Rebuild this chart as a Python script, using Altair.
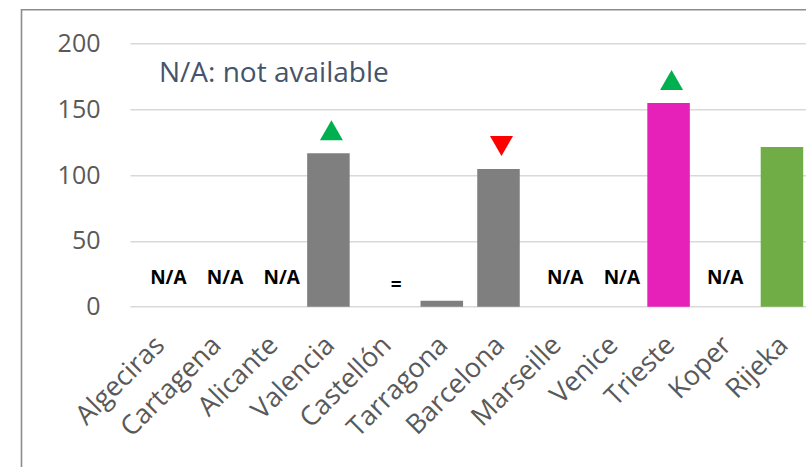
import altair as alt
import pandas as pd

ports = ["Algeciras", "Cartagena", "Alicante", "Valencia", "Castellón", "Tarragona",
         "Barcelona", "Marseille", "Venice", "Trieste", "Koper", "Rijeka"]
country = ["Spain", "Spain", "Spain", "Spain", "Spain", "Spain",
           "Spain", "France", "Italy", "Italy", "Slovenia", "Croatia"]
values = [None, None, None, 116.5, None, 4.6, 104.6, None, None, 154.7, None, 121.3]
notes = ["N/A", "N/A", "N/A", "", "=", "", "", "N/A", "N/A", "", "N/A", ""]
trend = [None, None, None, "up", None, None, "down", None, None, "up", None, None]
y_ticks = [0, 50, 100, 150, 200]

df = pd.DataFrame({"port": ports, "country": country, "value": values,
                   "note": notes, "trend": trend})

FONT = "Open Sans"
W, H = 676, 263.4
STEP_RANGE = 680.3

x_enc = alt.X("port:N", sort=ports,
              scale=alt.Scale(range=[0, STEP_RANGE], paddingInner=0.25, paddingOuter=0.125),
              axis=alt.Axis(title=None, labelAngle=-45, labelAlign="right", labelBaseline="middle",
                            labelFontSize=27, labelColor="#595959", labelFont=FONT,
                            labelPadding=34, labelOffset=2, domain=False, ticks=False,
                            tickSize=0, grid=False, labelOverlap=False))
y_scale = alt.Scale(domain=[0, 200], nice=False)
y_axis = alt.Axis(title=None, values=y_ticks, labelFontSize=25, labelColor="#595959",
                  labelFont=FONT, labelPadding=30, domain=False, ticks=False, tickSize=0,
                  grid=True, gridColor="#D9D9D9", gridWidth=1.5)

base = alt.Chart(df)

bars = base.mark_bar().encode(
    x=x_enc,
    y=alt.Y("value:Q", scale=y_scale, axis=y_axis),
    color=alt.Color("country:N",
                    scale=alt.Scale(domain=["Spain", "France", "Italy", "Slovenia", "Croatia"],
                                    range=["#7F7F7F", "#7F7F7F", "#E621BA", "#7F7F7F", "#70AD47"]),
                    legend=None),
)

na_main = base.transform_filter(
    "datum.note == 'N/A' && datum.port != 'Koper'"
).mark_text(font=FONT, fontWeight="bold", fontSize=19, color="black",
            baseline="middle", dx=10, dy=-29).encode(
    x=alt.X("port:N", sort=ports), y=alt.datum(0), text="note:N")

na_koper = base.transform_filter(
    "datum.note == 'N/A' && datum.port == 'Koper'"
).mark_text(font=FONT, fontWeight="bold", fontSize=19, color="black",
            baseline="middle", dx=0, dy=-29).encode(
    x=alt.X("port:N", sort=ports), y=alt.datum(0), text="note:N")

eq = base.transform_filter("datum.note == '='").mark_text(
    font=FONT, fontWeight="bold", fontSize=19, color="black",
    baseline="middle", dx=11, dy=-22).encode(
    x=alt.X("port:N", sort=ports), y=alt.datum(0), text="note:N")

arrows = base.transform_filter("datum.trend != null").mark_point(
    filled=True, opacity=1, size=530, yOffset=-23, xOffset=3).encode(
    x=alt.X("port:N", sort=ports),
    y=alt.Y("value:Q"),
    shape=alt.Shape("trend:N", scale=alt.Scale(domain=["up", "down"],
                                               range=["triangle-up", "triangle-down"]), legend=None),
    color=alt.Color("trend:N", scale=alt.Scale(domain=["up", "down"],
                                               range=["#00B050", "#FF0000"]), legend=None),
)

note = alt.Chart(alt.Data(values=[{"t": "N/A: not available"}])).mark_text(
    font=FONT, fontSize=28, color="#44546A", align="left", baseline="middle").encode(
    x=alt.value(29), y=alt.value(31), text="t:N")

frame = alt.Chart(alt.Data(values=[{}])).mark_rect(
    fill=None, stroke="#8C8C8C", strokeWidth=1.6).encode(
    x=alt.value(-108.5), x2=alt.value(720), y=alt.value(-33.5), y2=alt.value(500))

chart = alt.layer(frame, bars, na_main, na_koper, eq, arrows, note).resolve_scale(
    color="independent"
).properties(
    width=W, height=H,
    autosize=alt.AutoSizeParams(type="none"),
    padding={"left": 130, "top": 43.3, "right": 0, "bottom": 160.3},
    background="white",
).configure_view(stroke=None)

chart.save("out.html", embed_options={"renderer": "svg", "actions": False})
